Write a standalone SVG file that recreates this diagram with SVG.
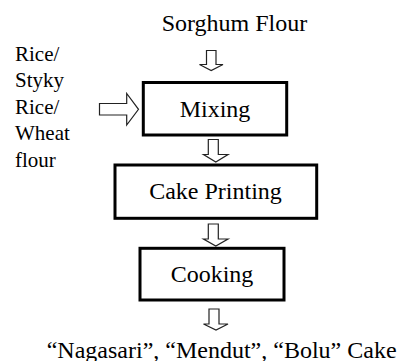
<svg xmlns="http://www.w3.org/2000/svg" width="400" height="361" viewBox="0 0 400 361">
<style>
.lbl{font-size:24px}
.side{font-size:21px}
.box{fill:#fff;stroke:#000;stroke-width:3}
.arr{fill:#fff;stroke:#222;stroke-width:1.2;stroke-linejoin:miter}
</style>
<rect width="400" height="361" fill="#fff"/>
<g id="connectors">
<path class="arr" d="M206.5,50.5 H216 V64.5 H223 L211.2,70.5 L199.5,64.5 H206.5 Z"/>
<path class="arr" d="M208.3,139.5 H218.3 V154.5 H228 L215.8,162 L203.5,154.5 H208.3 Z"/>
<path class="arr" d="M208.3,224 H218.3 V239 H228 L215.8,246 L203.5,239 H208.3 Z"/>
<path class="arr" d="M209,309 H219 V324 H228 L216,330 L203.5,324 H209 Z"/>
<path class="arr" d="M99.5,103.5 H126.7 V93.5 L138.5,109.3 L126.7,125 V115 H99.5 Z"/>
</g>
<g font-family="Liberation Serif" fill="#000">
<g id="sorghum"><text class="lbl" x="161.7" y="31">Sorghum Flour</text></g>
<g id="rice">
<text class="side" x="15" y="60.5">Rice/</text>
<text class="side" x="15" y="87">Styky</text>
<text class="side" x="15" y="113.5">Rice/</text>
<text class="side" x="15" y="140">Wheat</text>
<text class="side" x="15" y="166.5">flour</text>
</g>
<g id="mixing">
<rect class="box" x="143.3" y="82.5" width="143.4" height="52.5"/>
<text class="lbl" x="215" y="116.7" text-anchor="middle">Mixing</text>
</g>
<g id="cake-printing">
<rect class="box" x="115" y="165" width="201.7" height="53.3"/>
<text class="lbl" x="215.5" y="199" text-anchor="middle">Cake Printing</text>
</g>
<g id="cooking">
<rect class="box" x="140" y="248.3" width="144" height="51.7"/>
<text class="lbl" x="212" y="282" text-anchor="middle">Cooking</text>
</g>
<g id="result"><text class="lbl" x="46.7" y="357.5">“Nagasari”, “Mendut”, “Bolu” Cake</text></g>
</g>
</svg>
